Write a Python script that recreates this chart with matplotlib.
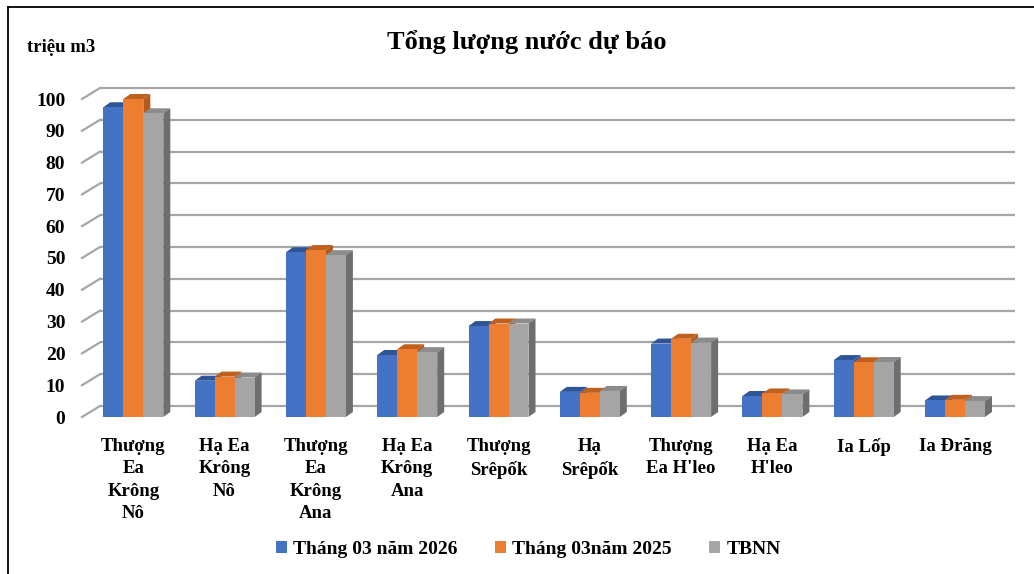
import matplotlib
matplotlib.use("Agg")
import matplotlib.pyplot as plt
from matplotlib.patches import Polygon, Patch
from matplotlib.lines import Line2D
from matplotlib.transforms import IdentityTransform, ScaledTranslation

plt.rcParams['font.family'] = ['Liberation Serif', 'DejaVu Serif']
plt.rcParams['font.weight'] = 'bold'

# data
categories = ["Thượng\nEa\nKrông\nNô", "Hạ Ea\nKrông\nNô", "Thượng\nEa\nKrông\nAna",
              "Hạ Ea\nKrông\nAna", "Thượng\nSrêpốk", "Hạ\nSrêpốk", "Thượng\nEa H'leo",
              "Hạ Ea\nH'leo", "Ia Lốp", "Ia Đrăng"]
thang03_2026 = [97.4, 11.4, 51.8, 19.5, 28.6, 7.9, 23.1, 6.6, 17.9, 5.2]
thang03_2025 = [100.0, 12.7, 52.5, 21.3, 29.4, 7.6, 24.6, 7.4, 17.2, 5.4]
tbnn = [95.5, 12.4, 50.9, 20.4, 29.4, 8.2, 23.4, 7.1, 17.3, 5.0]
series_names = ["Tháng 03 năm 2026", "Tháng 03năm 2025", "TBNN"]
yticks = [0, 10, 20, 30, 40, 50, 60, 70, 80, 90, 100]

front_colors = ['#4472C4', '#ED7D31', '#A5A5A5']
top_colors = ['#2F5597', '#C0601F', '#8C8C8C']
side_colors = ['#30589E', '#B35A1C', '#6E6E6E']

fig = plt.figure(figsize=(10.34, 5.74), dpi=100)
ax = fig.add_axes([82 / 1034, 157 / 574, 915 / 1034, 318 / 574])
ax.set_xlim(-0.562, 9.46)
ax.set_ylim(0, 100)
for s in ax.spines.values():
    s.set_visible(False)
ax.set_facecolor('none')

# back wall offsets (pixels)
wdx, wdy = 18, 11
bdx, bdy = 7, 5

wall = ax.transData + ScaledTranslation(wdx / 100, wdy / 100, fig.dpi_scale_trans)
x0, x1 = ax.get_xlim()
for v in yticks:
    ax.plot([x0, x1], [v, v], color='#A6A6A6', lw=1.6, transform=wall,
            clip_on=False, zorder=1, solid_capstyle='butt')
    p = ax.transData.transform((x0, v))
    ax.plot([p[0], p[0] + wdx], [p[1], p[1] + wdy], color='#A6A6A6', lw=1.6,
            transform=IdentityTransform(), clip_on=False, zorder=1)

width = 0.219
series = [thang03_2026, thang03_2025, tbnn]
z = 2
for i in range(len(categories)):
    for j, vals in enumerate(series):
        xl = i + (j - 1) * width - width / 2
        xr = xl + width
        v = vals[i]
        a = ax.transData.transform((xl, v))
        b = ax.transData.transform((xr, v))
        c = ax.transData.transform((xr, 0))
        top = Polygon([a, b, (b[0] + bdx, b[1] + bdy), (a[0] + bdx, a[1] + bdy)],
                      closed=True, facecolor=top_colors[j], edgecolor='none',
                      transform=IdentityTransform(), zorder=z, clip_on=False)
        side = Polygon([b, c, (c[0] + bdx, c[1] + bdy), (b[0] + bdx, b[1] + bdy)],
                       closed=True, facecolor=side_colors[j], edgecolor='none',
                       transform=IdentityTransform(), zorder=z, clip_on=False)
        ax.add_patch(top)
        ax.add_patch(side)
        ax.bar(xl, v, width=width, align='edge', color=front_colors[j],
               zorder=z + 1, clip_on=False)
        z += 2

ax.set_yticks(yticks)
ax.set_yticklabels([str(t) for t in yticks], fontsize=14, fontweight='bold')
ax.set_xticks(range(len(categories)))
ax.set_xticklabels(categories, fontsize=13.5, fontweight='bold', linespacing=1.42)
ax.tick_params(axis='y', length=0, pad=12)
ax.tick_params(axis='x', length=0, pad=15)

fig.text(0.509, 0.927, "Tổng lượng nước dự báo", ha='center', va='center',
         fontsize=19, fontweight='bold')
fig.text(0.026, 0.918, "triệu m3", ha='left', va='center', fontsize=13.5,
         fontweight='bold')

handles = [Patch(facecolor=c, edgecolor='none') for c in front_colors]
fig.legend(handles, series_names, loc='center', bbox_to_anchor=(0.511, 0.043),
           ncol=3, frameon=False, handlelength=0.55, handleheight=0.55,
           handletextpad=0.35, columnspacing=1.9, prop={'weight': 'bold', 'size': 14})

# border lines (left and top)
fig.add_artist(Line2D([8 / 1034, 8 / 1034], [0, 1 - 7 / 574], color='black', lw=1.3,
                      transform=fig.transFigure))
fig.add_artist(Line2D([8 / 1034, 1], [1 - 7 / 574, 1 - 7 / 574], color='black', lw=1.3,
                      transform=fig.transFigure))

fig.savefig("out.png", dpi=100)
